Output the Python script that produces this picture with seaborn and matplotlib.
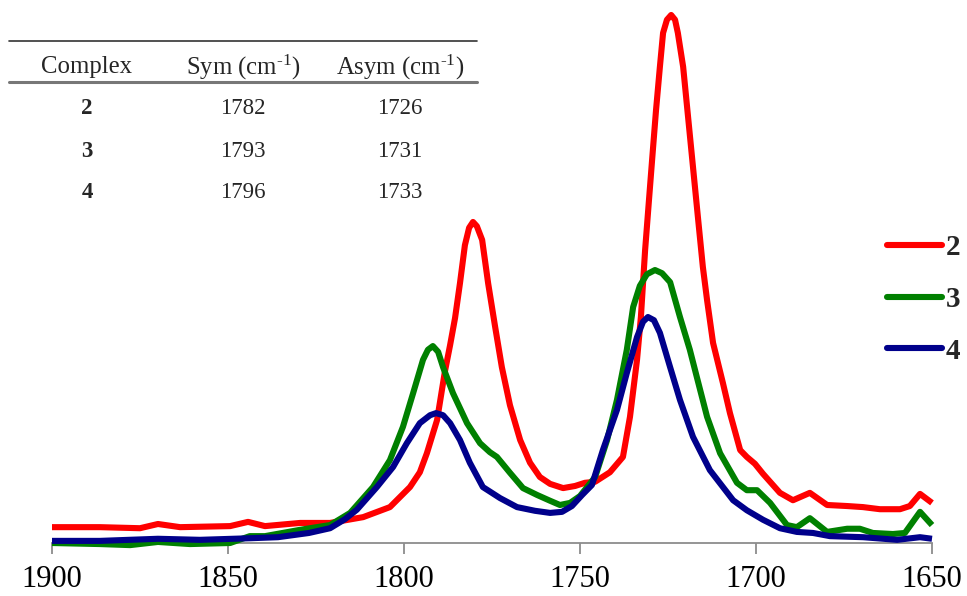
import numpy as np
import pandas as pd
import matplotlib
matplotlib.use("Agg")
import matplotlib.pyplot as plt
from matplotlib.lines import Line2D
import seaborn as sns

# ---------------- data ----------------
wn_2 = [1900, 1886.4, 1875.0, 1869.9, 1863.6, 1849.4, 1844.3, 1839.5, 1829.5, 1821.0,
        1811.6, 1804.0, 1798.3, 1795.5, 1793.5, 1790.6, 1788.4, 1786.9, 1785.5, 1784.1,
        1782.7, 1781.5, 1780.4, 1779.3, 1777.8, 1776.1, 1774.1, 1772.2, 1769.9, 1767.0,
        1764.2, 1761.4, 1758.5, 1754.8, 1751.4, 1748.6, 1745.7, 1741.5, 1737.8, 1735.8,
        1733.8, 1732.7, 1731.5, 1730.4, 1729.3, 1728.4, 1727.3, 1726.4, 1725.3, 1724.1,
        1723.0, 1722.2, 1720.7, 1719.3, 1717.9, 1716.5, 1715.1, 1713.9, 1712.2, 1709.4,
        1707.4, 1704.5, 1702.6, 1700.3, 1698.0, 1693.2, 1689.5, 1684.7, 1679.8, 1674.1,
        1669.6, 1664.8, 1659.1, 1656.3, 1653.4, 1650]
abs_2 = [0.030, 0.030, 0.028, 0.036, 0.030, 0.032, 0.040, 0.032, 0.038, 0.038,
         0.049, 0.068, 0.106, 0.134, 0.170, 0.233, 0.324, 0.375, 0.426, 0.492,
         0.564, 0.597, 0.608, 0.600, 0.574, 0.492, 0.409, 0.333, 0.261, 0.195,
         0.152, 0.125, 0.112, 0.104, 0.108, 0.114, 0.116, 0.134, 0.163, 0.239,
         0.347, 0.428, 0.555, 0.650, 0.744, 0.820, 0.902, 0.966, 0.991, 1.000,
         0.991, 0.966, 0.902, 0.807, 0.712, 0.617, 0.523, 0.460, 0.379, 0.303,
         0.246, 0.176, 0.163, 0.150, 0.131, 0.095, 0.081, 0.095, 0.072, 0.070,
         0.068, 0.064, 0.064, 0.070, 0.093, 0.076]

wn_3 = [1900, 1886.4, 1877.8, 1869.9, 1860.8, 1849.4, 1843.8, 1839.5, 1829.5, 1821.0,
        1815.3, 1808.8, 1804.0, 1800.3, 1797.4, 1794.6, 1793.2, 1791.8, 1790.3, 1788.9,
        1786.1, 1782.1, 1778.4, 1775.6, 1773.6, 1769.9, 1766.2, 1762.2, 1758.5, 1755.7,
        1752.8, 1750.0, 1745.7, 1742.3, 1739.5, 1736.7, 1734.9, 1733.0, 1731.0, 1728.7,
        1726.7, 1724.4, 1721.6, 1718.8, 1716.8, 1713.9, 1710.2, 1705.4, 1702.6, 1699.7,
        1696.0, 1691.2, 1688.4, 1684.7, 1679.8, 1674.1, 1670.5, 1666.8, 1661.1, 1657.7,
        1653.4, 1650]
abs_3 = [0.000, -0.002, -0.004, 0.002, -0.002, 0.000, 0.013, 0.013, 0.025, 0.034,
         0.057, 0.106, 0.157, 0.220, 0.284, 0.347, 0.366, 0.373, 0.362, 0.333,
         0.284, 0.227, 0.189, 0.172, 0.163, 0.133, 0.104, 0.091, 0.080, 0.072,
         0.076, 0.089, 0.125, 0.195, 0.271, 0.366, 0.447, 0.487, 0.509, 0.517,
         0.511, 0.494, 0.428, 0.366, 0.314, 0.239, 0.170, 0.114, 0.100, 0.100,
         0.076, 0.034, 0.030, 0.047, 0.021, 0.027, 0.027, 0.019, 0.017, 0.019,
         0.059, 0.034]

wn_4 = [1900, 1886.4, 1869.9, 1858.0, 1843.8, 1835.8, 1827.0, 1821.0, 1816.8, 1813.4,
        1807.7, 1803.1, 1799.2, 1795.5, 1792.6, 1790.9, 1788.9, 1786.9, 1784.1, 1781.3,
        1777.6, 1772.7, 1767.9, 1762.8, 1758.5, 1755.1, 1752.3, 1749.4, 1746.6, 1743.5,
        1739.5, 1736.7, 1733.8, 1732.1, 1730.7, 1729.0, 1727.3, 1724.4, 1721.6, 1717.9,
        1713.1, 1706.5, 1702.6, 1698.0, 1693.2, 1688.4, 1683.8, 1679.0, 1669.6, 1659.9,
        1653.4, 1650]
abs_4 = [0.004, 0.004, 0.008, 0.006, 0.009, 0.011, 0.019, 0.028, 0.045, 0.063,
         0.106, 0.144, 0.189, 0.227, 0.242, 0.246, 0.242, 0.227, 0.195, 0.152,
         0.106, 0.085, 0.068, 0.061, 0.057, 0.059, 0.070, 0.091, 0.110, 0.176,
         0.252, 0.322, 0.390, 0.419, 0.428, 0.422, 0.398, 0.333, 0.271, 0.201,
         0.138, 0.081, 0.062, 0.044, 0.028, 0.021, 0.019, 0.013, 0.011, 0.006,
         0.011, 0.008]

complexes = ["2", "3", "4"]
colors = ["#FF0000", "#008000", "#00008B"]
x_ticks = [1900, 1850, 1800, 1750, 1700, 1650]

table_header = ["Complex", r"Sym (cm$^{\text{-1}}$)", r"Asym (cm$^{\text{-1}}$)"]
table_rows = [["2", "1782", "1726"],
              ["3", "1793", "1731"],
              ["4", "1796", "1733"]]

# ---------------- style ----------------
sns.set_style("white")
plt.rcParams["font.family"] = ["Liberation Serif", "DejaVu Serif"]
plt.rcParams["mathtext.fontset"] = "custom"
plt.rcParams["mathtext.rm"] = "Liberation Serif"
plt.rcParams["mathtext.default"] = "regular"

frames = []
for name, w, a in zip(complexes, [wn_2, wn_3, wn_4], [abs_2, abs_3, abs_4]):
    frames.append(pd.DataFrame({"wn": w, "abs": a, "complex": name}))
df = pd.concat(frames, ignore_index=True)

W, H = 967, 596
fig = plt.figure(figsize=(W / 100, H / 100), dpi=100)
ax_left, ax_right, ax_bottom = 52 / W, 932 / W, (H - 543) / H
ymax = 1.05
ax = fig.add_axes([ax_left, ax_bottom, ax_right - ax_left, ymax * 528 / H])

sns.lineplot(data=df, x="wn", y="abs", hue="complex", palette=colors,
             hue_order=complexes, estimator=None, sort=False,
             linewidth=4.4, ax=ax, legend=False)
for ln in ax.lines:
    ln.set_clip_on(False)
    ln.set_zorder(3)
    ln.set_solid_joinstyle("round")
    ln.set_solid_capstyle("butt")

ax.set_xlim(1900, 1650)
ax.set_ylim(0, ymax)
ax.set_xticks(x_ticks)
ax.set_xticklabels([str(t) for t in x_ticks])
ax.set_yticks([])
ax.set_xlabel("")
ax.set_ylabel("")
for s in ["left", "top", "right"]:
    ax.spines[s].set_visible(False)
ax.spines["bottom"].set_color("#8c8c8c")
ax.spines["bottom"].set_linewidth(1.3)
ax.tick_params(axis="x", direction="out", length=8, width=1.3, color="#8c8c8c",
               labelsize=22, labelcolor="black", pad=8, bottom=True)
ax.patch.set_alpha(0)

# ---------------- legend ----------------
handles = [Line2D([0], [0], color=c, lw=4.4, solid_capstyle="round") for c in colors]
leg = fig.legend(handles, complexes, loc="upper left",
                 bbox_to_anchor=(887 / W, 1 - 234 / H), frameon=False,
                 prop={"family": "Liberation Serif", "weight": "bold", "size": 21},
                 handlelength=1.9, handletextpad=0.12, labelspacing=0.85,
                 borderaxespad=0, borderpad=0)

# ---------------- table ----------------
def fx(px):
    return px / W

def fy(py):
    return 1 - py / H

fig.add_artist(Line2D([fx(9), fx(477)], [fy(41), fy(41)], color="#333333", lw=1.2))
fig.add_artist(Line2D([fx(9), fx(477)], [fy(82), fy(82)], color="#777777", lw=2.2))
col_x = [87, 243, 400]
for cx, txt in zip(col_x, table_header):
    fig.text(fx(cx), fy(67), txt, ha="center", va="center", fontsize=17.8)
row_y = [108, 151, 193]
for ry, row in zip(row_y, table_rows):
    for j, (cx, txt) in enumerate(zip(col_x, row)):
        fig.text(fx(cx), fy(ry), txt, ha="center", va="center", fontsize=16.5,
                 fontweight="bold" if j == 0 else "normal")

fig.savefig("out.png", dpi=100)
